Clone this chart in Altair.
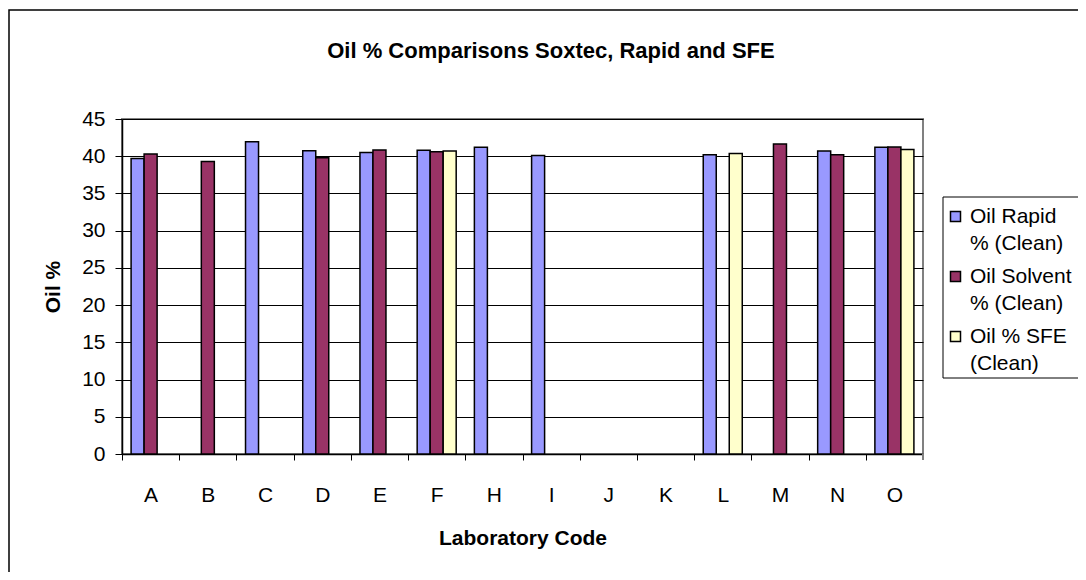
import altair as alt
import pandas as pd

F = "Liberation Sans"

labs = ["A", "B", "C", "D", "E", "F", "H", "I", "J", "K", "L", "M", "N", "O"]
series = ["Oil Rapid % (Clean)", "Oil Solvent % (Clean)", "Oil % SFE (Clean)"]
rapid = [39.7, None, 41.95, 40.75, 40.5, 40.8, 41.2, 40.1, None, None, 40.2, None, 40.7, 41.2]
solvent = [40.3, 39.3, None, 39.8, 40.85, 40.6, None, None, None, None, None, 41.65, 40.2, 41.25]
sfe = [None, None, None, None, None, 40.7, None, None, None, None, 40.35, None, None, 40.9]
colors = ["#9999FF", "#993366", "#FFFFCC"]
y_ticks = [0, 5, 10, 15, 20, 25, 30, 35, 40, 45]

rows = []
for name, vals in zip(series, [rapid, solvent, sfe]):
    for lab, v in zip(labs, vals):
        if v is not None:
            rows.append({"lab": lab, "series": name, "value": v})
df = pd.DataFrame(rows)

W, H = 801, 335
step = W / len(labs)

label_expr = (
    "datum.label == 'Oil Rapid % (Clean)' ? ['Oil Rapid', '% (Clean)'] : "
    "datum.label == 'Oil Solvent % (Clean)' ? ['Oil Solvent', '% (Clean)'] : "
    "['Oil % SFE', '(Clean)']"
)

bars = alt.Chart(df).mark_bar(stroke="black", strokeWidth=1.5).encode(
    x=alt.X(
        "lab:N",
        sort=labs,
        scale=alt.Scale(domain=labs, paddingInner=0.318, paddingOuter=0.159),
        axis=alt.Axis(
            title="Laboratory Code",
            labelAngle=0,
            labelFont=F,
            labelFontSize=21,
            labelColor="black",
            labelPadding=24,
            tickOffset=-step / 2,
            labelOffset=step / 2,
            tickSize=6,
            tickColor="black",
            domainColor="black",
            domainWidth=1.5,
            titleFont=F,
            titleFontSize=21,
            titleFontWeight="bold",
            titleColor="black",
            titlePadding=22,
        ),
    ),
    xOffset=alt.XOffset(
        "series:N", sort=series,
        scale=alt.Scale(domain=series, paddingInner=0, paddingOuter=0),
    ),
    y=alt.Y(
        "value:Q",
        scale=alt.Scale(domain=[0, 45], nice=False),
        axis=alt.Axis(
            title="Oil %",
            values=y_ticks,
            grid=True,
            gridColor="black",
            gridWidth=1,
            labelFont=F,
            labelFontSize=21,
            labelColor="black",
            labelPadding=10,
            tickSize=7,
            tickColor="black",
            domainColor="black",
            domainWidth=1.5,
            titleFont=F,
            titleFontSize=21,
            titleFontWeight="bold",
            titleColor="black",
            titlePadding=18,
        ),
    ),
    color=alt.Color(
        "series:N",
        sort=series,
        scale=alt.Scale(domain=series, range=colors),
        legend=alt.Legend(
            title=None,
            orient="none",
            legendX=823,
            legendY=76,
            symbolType="M-1,1.2L1,1.2L1,3.2L-1,3.2Z",
            symbolSize=100,
            symbolStrokeColor="black",
            symbolStrokeWidth=1.5,
            symbolOpacity=1,
            labelFont=F,
            labelFontSize=21,
            labelColor="black",
            labelExpr=label_expr,
            labelOffset=4,
            labelBaseline="top",
            rowPadding=1,
            padding=0,
            labelLimit=300,
        ),
    ),
)

frame = alt.Chart(pd.DataFrame({"k": [0]})).mark_rect(
    fillOpacity=0, stroke="black", strokeWidth=1.5
).encode(
    x=alt.value(-113), x2=alt.value(W + 300), y=alt.value(-109), y2=alt.value(H + 300)
)

legend_box = alt.Chart(pd.DataFrame({"k": [0]})).mark_rect(
    fill="white", stroke="black", strokeWidth=1
).encode(
    x=alt.value(821), x2=alt.value(W + 300), y=alt.value(78), y2=alt.value(259)
)

end_tick = alt.Chart(pd.DataFrame({"k": [0]})).mark_rule(
    color="#808080", strokeWidth=2
).encode(
    x=alt.value(W), y=alt.value(H), y2=alt.value(H + 6)
)

chart = (
    alt.layer(frame, legend_box, bars, end_tick)
    .properties(
        width=W,
        height=H,
        autosize=alt.AutoSizeParams(type="none"),
        padding={"left": 114, "top": 111, "right": 155, "bottom": 118},
        title=alt.TitleParams(
            "Oil % Comparisons Soxtec, Rapid and SFE",
            anchor="start",
            dx=319,
            font=F,
            fontSize=22,
            fontWeight="bold",
            color="black",
            baseline="alphabetic",
            offset=-71,
        ),
        background="white",
    )
    .configure(style={"guide-label": {"lineHeight": 27}})
    .configure_view(stroke="#808080", strokeWidth=2)
)

chart.save("out.html", embed_options={"renderer": "svg", "actions": False})
